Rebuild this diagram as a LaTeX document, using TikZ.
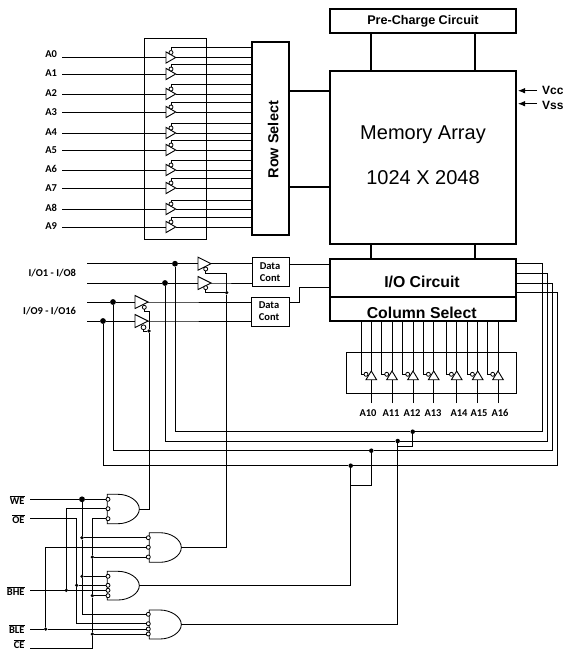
\documentclass[tikz,border=0pt]{standalone}
\usepackage{fontspec}
\setmainfont{Liberation Sans}
\newfontfamily\labfont{Carlito}
\usetikzlibrary{arrows.meta}
\newcommand{\gatepath}[4]{% name, left x, top y, bottom y
  \pgfmathsetmacro{\gxa}{#2+10.7}\pgfmathsetmacro{\gxb}{#2+21.5}\pgfmathsetmacro{\gxc}{#2+32}
  \pgfmathsetmacro{\gm}{(#3+#4)/2}\pgfmathsetmacro{\gua}{#3+6.6}\pgfmathsetmacro{\gub}{#4-6.6}
  \draw[wire] (#2,#3) -- (\gxa,#3) .. controls (\gxb,#3) and (\gxc,\gua) .. (\gxc,\gm)
     .. controls (\gxc,\gub) and (\gxb,#4) .. (\gxa,#4) -- (#2,#4) -- cycle;
  \coordinate (#1) at (\gxc,\gm);
}
\newcommand{\ovl}[1]{$\overline{\hbox{#1}}$}
\begin{document}
\begin{tikzpicture}[x=1pt,y=-1pt,
  wire/.style={line width=0.85pt,black},
  thick wire/.style={line width=2.2pt,black},
  thickbox/.style={draw,line width=2.2pt,inner sep=0pt,outer sep=0pt,font=\bfseries},
  thinbox/.style={draw,line width=0.85pt,inner sep=0pt,outer sep=0pt},
  lab/.style={inner sep=0pt,outer sep=0pt,font=\labfont\bfseries\fontsize{10.5}{12}\selectfont},
  dc/.style={inner sep=0pt,outer sep=0pt,font=\labfont\bfseries\fontsize{10.5}{12}\selectfont},
  bub/.style={circle,draw,line width=0.8pt,fill=white,inner sep=0pt,minimum size=4pt,outer sep=0pt},
  jdot/.style={circle,fill=black,inner sep=0pt,minimum size=4.5pt,outer sep=0pt},
  bigdot/.style={circle,fill=black,inner sep=0pt,minimum size=5.8pt,outer sep=0pt},
  tria/.style={line width=0.9pt,black,fill=white},
]
\useasboundingbox (0,0) rectangle (562,650);

% main blocks
\node[thickbox,minimum width=186pt,minimum height=24pt,font=\bfseries\fontsize{12.6}{14}\selectfont] (prech) at (423,21.3) {Pre-Charge Circuit};
\node[thickbox,minimum width=186pt,minimum height=173pt] (mem) at (423,157.7) {};
\node[inner sep=0pt,font=\fontsize{20}{22}\selectfont] (memA) at (423,135) {Memory Array};
\node[inner sep=0pt,font=\fontsize{20}{22}\selectfont] (memB) at (423,178) {1024 X 2048};
\node[thickbox,minimum width=186pt,minimum height=38pt] (ioc) at (423,278) {};
\node[inner sep=0pt,font=\bfseries\fontsize{15.8}{18}\selectfont] (ioct) at (422,281.7) {I/O Circuit};
\node[thickbox,minimum width=186pt,minimum height=24pt] (colsel) at (423,309) {};
\node[inner sep=0pt,font=\bfseries\fontsize{15.8}{18}\selectfont] (colt) at (421.7,312.7) {Column Select};
\node[thickbox,minimum width=36.7pt,minimum height=192.7pt] (rowsel) at (270.3,138.7) {};
\node[inner sep=0pt,rotate=90,font=\bfseries\fontsize{14.5}{16}\selectfont] (rowt) at (273.3,139.7) {Row Select};
\node[thinbox,minimum width=36.7pt,minimum height=29pt] (dc1) at (270.6,272.2) {};
\node[dc,align=center] (dc1t) at (270,272) {Data\\Cont};
\node[thinbox,minimum width=37.7pt,minimum height=29pt] (dc2) at (270.2,312.2) {};
\node[dc,align=center] (dc2t) at (269,311) {Data\\Cont};
\node[thinbox,minimum width=62pt,minimum height=201pt] (rowbox) at (175,138.5) {};
\node[thinbox,minimum width=170pt,minimum height=41pt] (colbox) at (431,372.5) {};

% block to block connectors
\foreach \x/\n in {371.3/a,475/b}{
  \coordinate (top\n) at (\x,50);
  \draw[thick wire] (prech.south -| top\n) -- (mem.north -| top\n);
  \draw[thick wire] (mem.south -| top\n) -- (ioc.north -| top\n);
}
\foreach \y/\n in {91/a,187/b}{
  \coordinate (rs\n) at (300,\y);
  \draw[thick wire] (rowsel.east |- rs\n) -- (mem.west |- rs\n);
}

% Vcc, Vss
\node[inner sep=0pt,anchor=west,font=\bfseries\fontsize{12}{14}\selectfont] (vcc) at (542,90) {Vcc};
\node[inner sep=0pt,anchor=west,font=\bfseries\fontsize{12}{14}\selectfont] (vss) at (542,105) {Vss};
\coordinate (vcce) at (537,90.7);\coordinate (vsse) at (537,103.7);
\draw[wire,-{Latex[length=7pt,width=5.5pt]}] (vcce) -- (518,90.7);
\draw[wire,-{Latex[length=7pt,width=5.5pt]}] (vsse) -- (518,103.7);

% row address buffers
\foreach \i/\y/\ly/\ty in {0/57.5/54/47.7,1/74/73/64.3,2/94/93/84.3,3/112/112/102.7,4/133/132/123.3,5/150/150/140.3,6/170/169/160.3,7/188/188/178.7,8/209/208/200,9/227/226/217.3}{
  \node[lab,anchor=east] (lA\i) at (57,\ly) {A\i};
  \coordinate (inA\i) at (62,\y);
  \coordinate (trA\i) at (166,\y);
  \coordinate (tpA\i) at (175.7,\y);
  \coordinate (stA\i) at (200,\ty);
  \draw[wire] (inA\i) -- (trA\i);
  \draw[wire] (tpA\i) -- (rowsel.west |- tpA\i);
  \draw[tria] (166,\y-5.6) -- (tpA\i) -- (166,\y+5.6) -- cycle;
  \node[bub] (buA\i) at (171,\y-5) {};
  \draw[wire] (buA\i) |- (rowsel.west |- stA\i);
}

% column address buffers
\foreach \n/\cx/\sx/\lx in {10/371.3/361/368,11/392/381.7/391,12/413/402.7/412,13/433.7/423.3/433,14/456.7/446.3/459,15/477.7/467.3/479,16/498/487.7/500}{
  \node[lab] (lA\n) at (\lx,413) {A\n};
  \coordinate (inA\n) at (\cx,403);
  \coordinate (baA\n) at (\cx,379.7);
  \coordinate (tpA\n) at (\cx,371);
  \coordinate (seA\n) at (\sx,350);
  \draw[wire] (inA\n) -- (baA\n);
  \draw[wire] (tpA\n) -- (colsel.south -| tpA\n);
  \draw[tria] (\cx-5.3,379.7) -- (tpA\n) -- (\cx+5.3,379.7) -- cycle;
  \node[bub] (buA\n) at (\cx-5.3,374.3) {};
  \draw[wire] (colsel.south -| seA\n) |- (buA\n);
}

% I/O labels
\node[lab,anchor=east] (lio1) at (76,273) {I/O1 - I/O8};
\node[lab,anchor=east] (lio2) at (76,311) {I/O9 - I/O16};

% I/O junctions and lines
\coordinate (ioa) at (87,263.7);\coordinate (iob) at (87,283);\coordinate (ioc1) at (87,302);\coordinate (iod) at (87,321);
\node[bigdot] (j1) at (175,263.7) {};
\node[bigdot] (j2) at (165,283) {};
\node[bigdot] (j3) at (113,302) {};
\node[bigdot] (j4) at (103,321) {};

\foreach \n/\s/\j/\tx/\dcn in {a/ioa/j1/198/dc1,b/iob/j2/198/dc1,c/ioc1/j3/135/dc2,d/iod/j4/135/dc2}{
  \coordinate (tr\n) at (\tx,0);
  \draw[wire] (\s) -- (\j);
  \draw[wire] (\j) -- (\j -| tr\n);
  \draw[wire] (\j -| tr\n) -- ++(13,0) -- (\dcn.west |- \j);
  \draw[tria] (\j -| tr\n) ++(0,-6.5) -- ++(13,6.5) -- ++(-13,6.5) -- cycle;
}
\node[bub] (bio1) at (205.7,269) {};
\node[bub] (bio2) at (205.7,287.7) {};
\node[bub] (bio3) at (144.3,307.3) {};
\node[bub,minimum size=4.8pt] (bio4) at (143.5,327.3) {};

% data cont to I/O circuit
\coordinate (dca) at (300,264);\coordinate (dcb) at (299.3,302);\coordinate (dcc) at (299.3,287.3);
\draw[wire] (dc1.east |- dca) -- (ioc.west |- dca);
\draw[wire] (dc2.east |- dcb) -- (dcb) -- (dcc) -- (ioc.west |- dcc);

% bus junctions
\node[jdot] (ja1) at (412.7,431.7) {};
\node[jdot] (ja2) at (397.7,441) {};
\node[jdot] (ja3) at (371.3,450.7) {};
\node[jdot] (ja4) at (350.7,465.7) {};
\coordinate (r1) at (542,263.7);\coordinate (r2) at (547.7,273);\coordinate (r3) at (552.7,283);\coordinate (r4) at (557.7,292.3);
\draw[wire] (j1) |- (ja1); \draw[wire] (ja1) -| (r1) -- (ioc.east |- r1);
\draw[wire] (j2) |- (ja2); \draw[wire] (ja2) -| (r2) -- (ioc.east |- r2);
\draw[wire] (j3) |- (ja3); \draw[wire] (ja3) -| (r3) -- (ioc.east |- r3);
\draw[wire] (j4) |- (ja4); \draw[wire] (ja4) -| (r4) -- (ioc.east |- r4);
\coordinate (lk1) at (350.7,485);\coordinate (lk2) at (397.7,446.7);
\draw[wire] (lk1) -| (ja3);
\draw[wire] (lk2) -| (ja1);

% gates
\gatepath{g1out}{107.3}{494.3}{523.7}
\gatepath{g2out}{149.3}{532.7}{562.3}
\gatepath{g3out}{107.3}{571.3}{600}
\gatepath{g4out}{149.3}{610}{639}

\foreach \n/\x/\y in {g1a/108/499.3,g1b/108/508.7,g1c/108/518.7,g2a/148.3/537.7,g2b/148.3/547.3,g2c/148.3/557,g3a/108/576.3,g3b/108/585.3,g3c/108/590.3,g3d/108/595.7,g4a/148.3/614.3,g4b/148.3/623.7,g4c/148.3/629,g4d/148.3/634}{
  \node[bub] (\n) at (\x,\y) {};
}

% control inputs
\node[lab,anchor=east] (lwe) at (24.5,499.7) {\ovl{WE}};
\node[lab,anchor=east] (loe) at (24.5,519.3) {\ovl{OE}};
\node[lab,anchor=east] (lhe) at (24.5,590.7) {\ovl{BHE}};
\node[lab,anchor=east] (lle) at (24.5,629.3) {\ovl{BLE}};
\node[lab,anchor=base east] (lce) at (24.5,648.3) {\ovl{CE}};
\coordinate (weL) at (30,499.3);\coordinate (oeL) at (30,518.3);\coordinate (heL) at (30,590.3);\coordinate (leL) at (30,629);\coordinate (ceL) at (30,648);

\node[bigdot] (jw1) at (82,499.3) {};
\node[jdot,minimum size=3.6pt] (jw2) at (82,537.7) {};
\node[jdot,minimum size=3.6pt] (jw3) at (82,576.3) {};
\node[jdot,minimum size=3.6pt] (jo) at (76.7,585.3) {};
\node[jdot,minimum size=3.6pt] (jh) at (66.3,590.3) {};
\node[jdot,minimum size=3.6pt] (jl) at (45.7,629) {};
\node[jdot,minimum size=3.6pt] (jc1) at (92.3,557) {};
\node[jdot,minimum size=3.6pt] (jc2) at (92.3,595.7) {};
\node[jdot,minimum size=3.6pt] (jc3) at (92.3,634) {};

\draw[wire] (weL) -- (jw1) -- (g1a);
\draw[wire] (jw1) -- (jw2) -- (jw3) |- (g4a);
\draw[wire] (jw2) -- (g2a);
\draw[wire] (jw3) -- (g3a);
\draw[wire] (oeL) -| (jo);
\draw[wire] (jo) -- (g3b);
\draw[wire] (jo) |- (g4b);
\draw[wire] (heL) -- (jh) -- (g3c);
\draw[wire] (jh) |- (g1b);
\draw[wire] (leL) -- (jl) -- (g4c);
\draw[wire] (jl) |- (g2b);
\draw[wire] (ceL) -| (jc3);
\draw[wire] (jc3) -- (g4d);
\draw[wire] (jc3) -- (jc2) -- (jc1) |- (g1c);
\draw[wire] (jc1) -- (g2c);
\draw[wire] (jc2) -- (g3d);

% gate outputs
\node[jdot,minimum size=3.6pt] (jb) at (149,331) {};
\node[jdot,minimum size=3.6pt] (jt) at (226.7,292.7) {};
\coordinate (cb) at (149,311.7);\coordinate (ct) at (226.7,273.3);
\draw[wire] (g1out) -| (jb);
\draw[wire] (jb) -- (cb) -| (bio3);
\draw[wire] (jb) -| (bio4);
\draw[wire] (g2out) -| (jt);
\draw[wire] (jt) -- (ct) -| (bio1);
\draw[wire] (jt) -| (bio2);
\draw[wire] (g3out) -| (ja4);
\draw[wire] (g4out) -| (ja2);
\end{tikzpicture}
\end{document}
